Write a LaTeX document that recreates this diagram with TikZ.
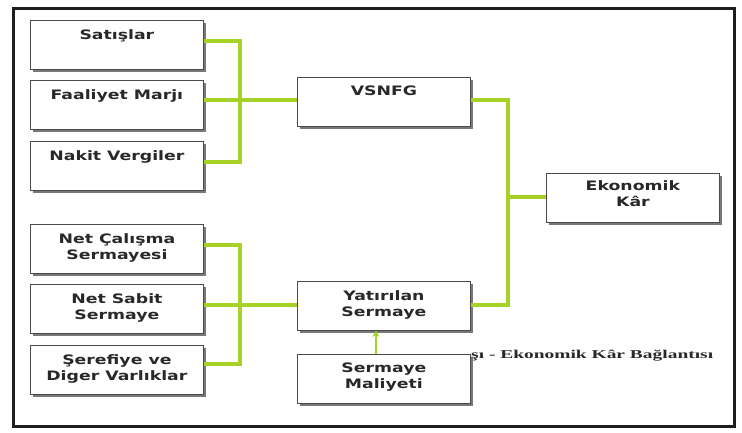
\documentclass[tikz,border=0pt]{standalone}
\usepackage{fontspec}
\usetikzlibrary{shadows,arrows.meta}
\newfontfamily\boxfont[FakeStretch=1.33]{DejaVu Sans}
\newfontfamily\capfont[FakeStretch=1.62]{Liberation Serif}
\definecolor{conngreen}{RGB}{166,210,38}
\definecolor{textcol}{RGB}{40,40,40}
\definecolor{boxline}{RGB}{75,75,75}
\definecolor{shadowgray}{RGB}{120,120,120}
\definecolor{framecol}{RGB}{30,30,30}
\begin{document}
\begin{tikzpicture}[x=1pt,y=-1pt,
  box/.style={draw=boxline, line width=0.8pt, fill=white, inner sep=0pt,
    anchor=north west, minimum width=173pt, minimum height=49pt,
    drop shadow={shadow xshift=2.5pt, shadow yshift=-2.5pt, fill=shadowgray, opacity=1}},
  lbl/.style={anchor=north, yshift=-9pt, inner sep=0pt, align=center, text=textcol,
    font=\boxfont\bfseries\fontsize{13}{16}\selectfont},
  conn/.style={draw=conngreen, line width=3.2pt},
  frame/.style={draw=framecol, line width=3pt}
]
\useasboundingbox (0,0) rectangle (742,432);
\fill[white] (0,0) rectangle (742,432);
\draw[frame] (13,8) rectangle (734,426);

% caption (partly hidden)
\node[anchor=west, inner sep=0pt, text=textcol, font=\capfont\bfseries\fontsize{12}{14}\selectfont] (cap) at (471,356) {şı - Ekonomik Kâr Bağlantısı};

\coordinate (ju) at (240,100);
\coordinate (jl) at (240,305);
\coordinate (jr) at (508,197);

% left boxes
\node[box, label={[lbl]north:Satışlar}] (sat) at (30,20) {};
\node[box, label={[lbl]north:Faaliyet Marjı}] (fm) at (30,80) {};
\node[box, label={[lbl]north:Nakit Vergiler}] (nak) at (30,141) {};
\node[box, label={[lbl]north:{Net Çalışma\\Sermayesi}}] (nc) at (30,224) {};
\node[box, label={[lbl]north:{Net Sabit\\Sermaye}}] (ns) at (30,284) {};
\node[box, label={[lbl]north:{Şerefiye ve\\Diger Varlıklar}}] (ser) at (30,345) {};

% middle boxes
\node[box, label={[lbl]north:VSNFG}] (vs) at (297,77) {};
\node[box, label={[lbl]north:{Yatırılan\\Sermaye}}] (ys) at (297,281) {};
\node[box, label={[lbl]north:{Sermaye\\Maliyeti}}] (sm) at (297,354) {};

% right box
\node[box, label={[lbl, yshift=2pt]north:{Ekonomik\\Kâr}}] (ek) at (546,173) {};

% upper tree
\draw[conn] ([yshift=4pt]sat.east) -| (ju);
\draw[conn] ([yshift=4pt]nak.east) -| (ju);
\draw[conn] (fm.east |- ju) -- (ju) -- (vs.west |- ju);
% lower tree
\draw[conn] ([yshift=4pt]nc.east) -| (jl);
\draw[conn] ([yshift=6pt]ser.east) -| (jl);
\draw[conn] (ns.east |- jl) -- (jl) -- (ys.west |- jl);
% right tree
\draw[conn] (vs.east |- ju) -| (jr);
\draw[conn] (ys.east |- jl) -| (jr);
\draw[conn] (jr) -- (ek.west |- jr);
% arrow
\draw[conn, line width=2.2pt, -{Stealth[length=6pt,width=7pt]}] ([xshift=-8pt]sm.north) -- ([xshift=-8pt]ys.south);
\end{tikzpicture}
\end{document}
